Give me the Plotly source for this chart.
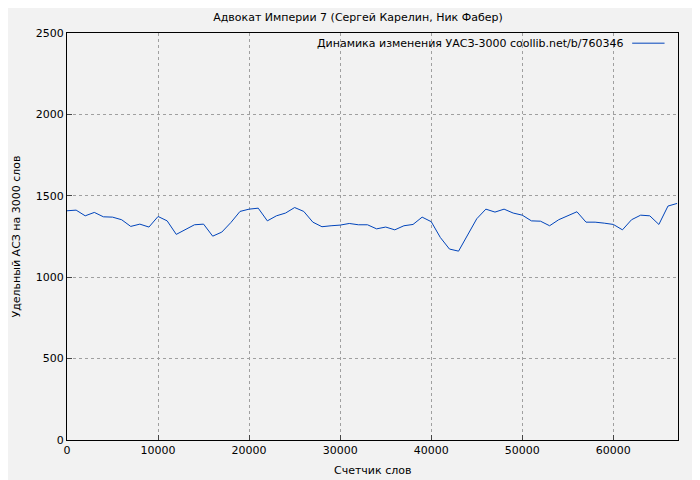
import plotly.graph_objects as go

words = list(range(0, 68000, 1000))
density = [1408, 1412, 1377, 1398, 1371, 1369, 1353, 1312, 1326, 1308,
           1373, 1346, 1263, 1295, 1322, 1326, 1252, 1277, 1336, 1404,
           1418, 1424, 1346, 1377, 1394, 1428, 1404, 1338, 1310, 1316,
           1320, 1330, 1322, 1322, 1297, 1308, 1291, 1316, 1324, 1369,
           1341, 1244, 1173, 1160, 1263, 1359, 1418, 1400, 1418, 1394,
           1381, 1346, 1344, 1316, 1353, 1377, 1402, 1338, 1338, 1332,
           1324, 1291, 1353, 1381, 1377, 1324, 1437, 1453]
series_name = 'Динамика изменения УАСЗ-3000 coollib.net/b/760346'
line_color = '#0044bb'

fig = go.Figure(
    data=[
        go.Scatter(
            x=words,
            y=density,
            mode='lines',
            line=dict(color=line_color, width=1),
            name=series_name,
            showlegend=False
        )
    ],
    layout=go.Layout(
        title=dict(text='Адвокат Империи 7 (Сергей Карелин, Ник Фабер)',
                   x=0.5, y=0.99, font=dict(size=11)),
        font=dict(family='DejaVu Sans', size=11, color='black'),
        paper_bgcolor='#f2f2f2',
        plot_bgcolor='#f2f2f2',
        width=700, height=480,
        margin=dict(l=59, r=30, t=25, b=48),
        xaxis=dict(
            range=[0, 67100], automargin=False,
            tickvals=[0, 10000, 20000, 30000, 40000, 50000, 60000],
            tickformat='d',
            showgrid=True, gridcolor='#a0a0a0', griddash='dot',
            showline=True, linecolor='black', mirror=True,
            ticks='inside', ticklen=5, zeroline=False
        ),
        yaxis=dict(
            range=[0, 2500], automargin=False,
            tickvals=[0, 500, 1000, 1500, 2000, 2500],
            tickformat='d',
            showgrid=True, gridcolor='#a0a0a0', griddash='dot',
            showline=True, linecolor='black', mirror=True,
            ticks='inside', ticklen=5, zeroline=False
        )
    )
)

# axis titles
fig.add_annotation(xref='paper', yref='paper', x=0, xshift=-51, y=0.5,
                   xanchor='center', yanchor='middle', showarrow=False,
                   textangle=-90, text='Удельный АСЗ на 3000 слов',
                   font=dict(size=11))
fig.add_annotation(xref='paper', yref='paper', x=0.5, y=0, yshift=-30,
                   xanchor='center', yanchor='middle', showarrow=False,
                   text='Счетчик слов', font=dict(size=11))

# legend in gnuplot style: text first, line sample on the right
fig.add_annotation(xref='paper', yref='paper', x=0.915, y=0.975,
                   xanchor='right', yanchor='middle', showarrow=False,
                   text=series_name, font=dict(size=11))
fig.add_shape(type='line', xref='paper', yref='paper',
              x0=0.925, x1=0.978, y0=0.975, y1=0.975,
              line=dict(color=line_color, width=1))

fig.write_html("out.html")
